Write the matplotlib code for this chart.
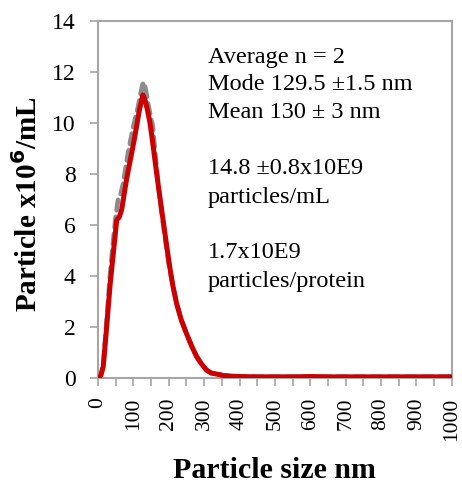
import matplotlib
matplotlib.use("Agg")
import matplotlib.pyplot as plt

# Particle size distribution
red_size = [0, 8, 15, 24, 34, 42, 48, 53, 60, 67, 74, 81, 88, 95, 102, 109, 117, 122, 127,
            133, 140, 147, 154, 161, 168, 175, 185, 194, 203, 212, 222, 235, 250, 265, 279,
            293, 307, 320, 335, 355, 373, 400, 450, 500, 550, 600, 650, 700, 750, 800,
            850, 900, 950, 1000]
red_count = [0, 0.1, 0.45, 1.9, 3.6, 4.7, 5.5, 6.2, 6.3, 6.6, 7.2, 7.8, 8.3, 8.8, 9.3, 9.85,
             10.5, 10.8, 11.1, 10.9, 10.5, 10.0, 9.3, 8.55, 7.8, 7.1, 6.1, 5.2, 4.35, 3.6,
             2.94, 2.3, 1.75, 1.25, 0.84, 0.55, 0.31, 0.2, 0.16, 0.1, 0.08, 0.06, 0.05, 0.05,
             0.05, 0.06, 0.05, 0.05, 0.05, 0.05, 0.05, 0.05, 0.05, 0.05]

gray_size = [0, 8, 15, 24, 34, 42, 50, 57, 64, 71, 78, 85, 92, 99, 106, 113, 120, 126, 130,
             135, 141, 148, 155, 161, 166, 172, 180, 190, 200, 212, 222, 235, 250, 265, 279,
             293, 307, 320, 335, 355, 373, 400, 450, 500, 550, 600, 650, 700, 750, 800,
             850, 900, 950, 1000]
gray_count = [0, 0.1, 0.5, 2.1, 4.0, 5.2, 6.3, 7.0, 7.2, 7.6, 8.2, 8.8, 9.3, 9.8, 10.2, 10.6,
              11.1, 11.5, 11.6, 11.3, 10.8, 10.3, 9.85, 8.9, 8.2, 7.4, 6.5, 5.5, 4.5, 3.6,
              2.94, 2.3, 1.75, 1.25, 0.84, 0.55, 0.31, 0.2, 0.16, 0.1, 0.08, 0.06, 0.05, 0.05,
              0.05, 0.06, 0.05, 0.05, 0.05, 0.05, 0.05, 0.05, 0.05, 0.05]

y_ticks = [0, 2, 4, 6, 8, 10, 12, 14]
x_ticks = list(range(0, 1001, 100))
x_minor = list(range(0, 1001, 50))

info_lines = ["Average n = 2", "Mode 129.5 \u00b11.5 nm", "Mean 130 \u00b1 3 nm", "",
              "14.8 \u00b10.8x10E9", "particles/mL", "", "1.7x10E9", "particles/protein"]

plt.rcParams["font.family"] = ["Liberation Serif", "DejaVu Serif"]

W, H = 462, 486
fig = plt.figure(figsize=(W / 100, H / 100), dpi=100)
ax = fig.add_axes([0.212, 0.222, 0.766, 0.735])

# Gray dashed curve behind, red solid curve on top
ax.plot(gray_size, gray_count, color="#8c8c8c", linewidth=3.4, linestyle=(0, (2.2, 1.4)),
        dash_capstyle="round", zorder=2)
ax.plot(red_size, red_count, color="#cc0000", linewidth=3.6, solid_capstyle="round",
        solid_joinstyle="round", zorder=3)

ax.set_xlim(0, 1000)
ax.set_ylim(0, 14)
ax.set_yticks(y_ticks)
ax.set_xticks(x_ticks)
ax.set_xticks(x_minor, minor=True)
ax.set_xticklabels([str(v) for v in x_ticks], rotation=90, fontsize=15.5)
ax.set_yticklabels([str(v) for v in y_ticks], fontsize=17)

for s in ax.spines.values():
    s.set_color("#a6a6a6")
    s.set_linewidth(1.5)

ax.tick_params(axis="both", which="both", direction="out", length=5.5, width=1.2,
               color="#a6a6a6")
ax.tick_params(axis="y", pad=10.5)
ax.tick_params(axis="x", pad=8.5)

ax.set_ylabel("Particle x10$^{\\mathbf{6}}$/mL", fontsize=21, fontweight="bold")
ax.yaxis.set_label_coords(-0.155, 0.486)
ax.set_xlabel("Particle size nm", fontsize=21.5, fontweight="bold")
ax.xaxis.set_label_coords(0.5, -0.222)

# Info text, one line at a time (baselines in pixels from the top)
for i, line in enumerate(info_lines):
    if line:
        yb = 62.5 + 28 * i
        fig.text(208 / W, 1 - yb / H, line, fontsize=17.5, ha="left", va="baseline")

fig.savefig("out.png", dpi=100)
